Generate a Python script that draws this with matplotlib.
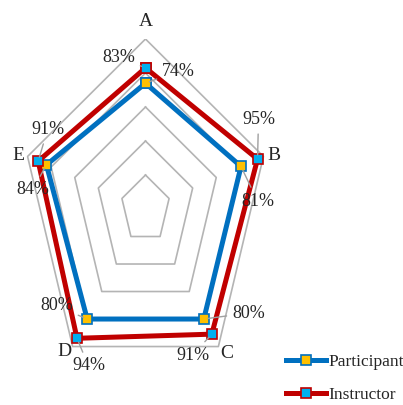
import numpy as np
import matplotlib
matplotlib.use("Agg")
import matplotlib.pyplot as plt
from matplotlib.lines import Line2D

plt.rcParams['font.family'] = ['Liberation Serif', 'DejaVu Serif']

# scores per category
categories = ['A', 'B', 'C', 'D', 'E']
participant = [0.74, 0.81, 0.80, 0.80, 0.84]
instructor = [0.83, 0.95, 0.91, 0.94, 0.91]
levels = [0.2, 0.4, 0.6, 0.8, 1.0]

blue = '#0070C0'
red = '#C00000'
grey = '#B4B4B4'

angles = np.arange(len(categories)) * 2 * np.pi / len(categories)


def to_xy(r):
    r = np.asarray(r, dtype=float)
    return r * np.sin(angles), r * np.cos(angles)


def closed(a):
    return np.append(a, a[0])


fig = plt.figure(figsize=(4.03, 4.05), dpi=100)
# plot box is stretched: wider in pixels per unit vertically than horizontally
ax = fig.add_axes([21.5 / 403, 26 / 405, 248 / 403, 340 / 405])
ax.set_xlim(-1, 1)
ax.set_ylim(-1, 1)
ax.axis('off')

# pentagon grid
for lv in levels:
    gx, gy = to_xy([lv] * len(categories))
    ax.plot(closed(gx), closed(gy), color=grey, lw=1.2, zorder=1)

px, py = to_xy(participant)
ix, iy = to_xy(instructor)
ax.plot(closed(px), closed(py), color=blue, lw=3.6, marker='s', ms=7,
        mfc='#FFC000', mec=blue, mew=1.2, zorder=3, solid_joinstyle='miter')
ax.plot(closed(ix), closed(iy), color=red, lw=3.6, marker='s', ms=7,
        mfc='#00B0F0', mec=red, mew=1.2, zorder=4, solid_joinstyle='miter')

# category names, in pixel offsets from the centre
cat_pos = [(0, 188), (128, 53), (81, -144), (-81, -142), (-127, 53)]
for name, (dx, dy) in zip(categories, cat_pos):
    ax.text(dx / 124, dy / 170, name, ha='center', va='center', fontsize=14,
            color='#262626')

# value labels: (participant, instructor) label centres in pixels
part_lab = [(33, 138), (112, 8), (103, -104), (-89, -97), (-113, 19)]
inst_lab = [(-27, 152), (113, 89), (47, -146), (-57, -157), (-98, 79)]


def label(x, y, val, pos):
    tx, ty = pos[0] / 124, pos[1] / 170
    ax.annotate(f'{val:.0%}', xy=(x, y), xytext=(tx, ty),
                ha='center', va='center', fontsize=13, color='#262626',
                arrowprops=dict(arrowstyle='-', color='#A0A0A0', lw=1.0,
                                shrinkA=2, shrinkB=3),
                zorder=5, annotation_clip=False)


for k in range(len(categories)):
    label(px[k], py[k], participant[k], part_lab[k])
    label(ix[k], iy[k], instructor[k], inst_lab[k])

handles = [
    Line2D([], [], color=blue, lw=3.6, marker='s', ms=7, mfc='#FFC000',
           mec=blue, mew=1.2),
    Line2D([], [], color=red, lw=3.6, marker='s', ms=7, mfc='#00B0F0',
           mec=red, mew=1.2),
]
fig.legend(handles, ['Participant', 'Instructor'], loc='lower left',
           bbox_to_anchor=(0.672, -0.034), frameon=False,
           handlelength=2.3, handletextpad=0.1, labelspacing=1.0,
           prop={'size': 12.5}, labelcolor='#262626')

fig.savefig('out.png', dpi=100)
